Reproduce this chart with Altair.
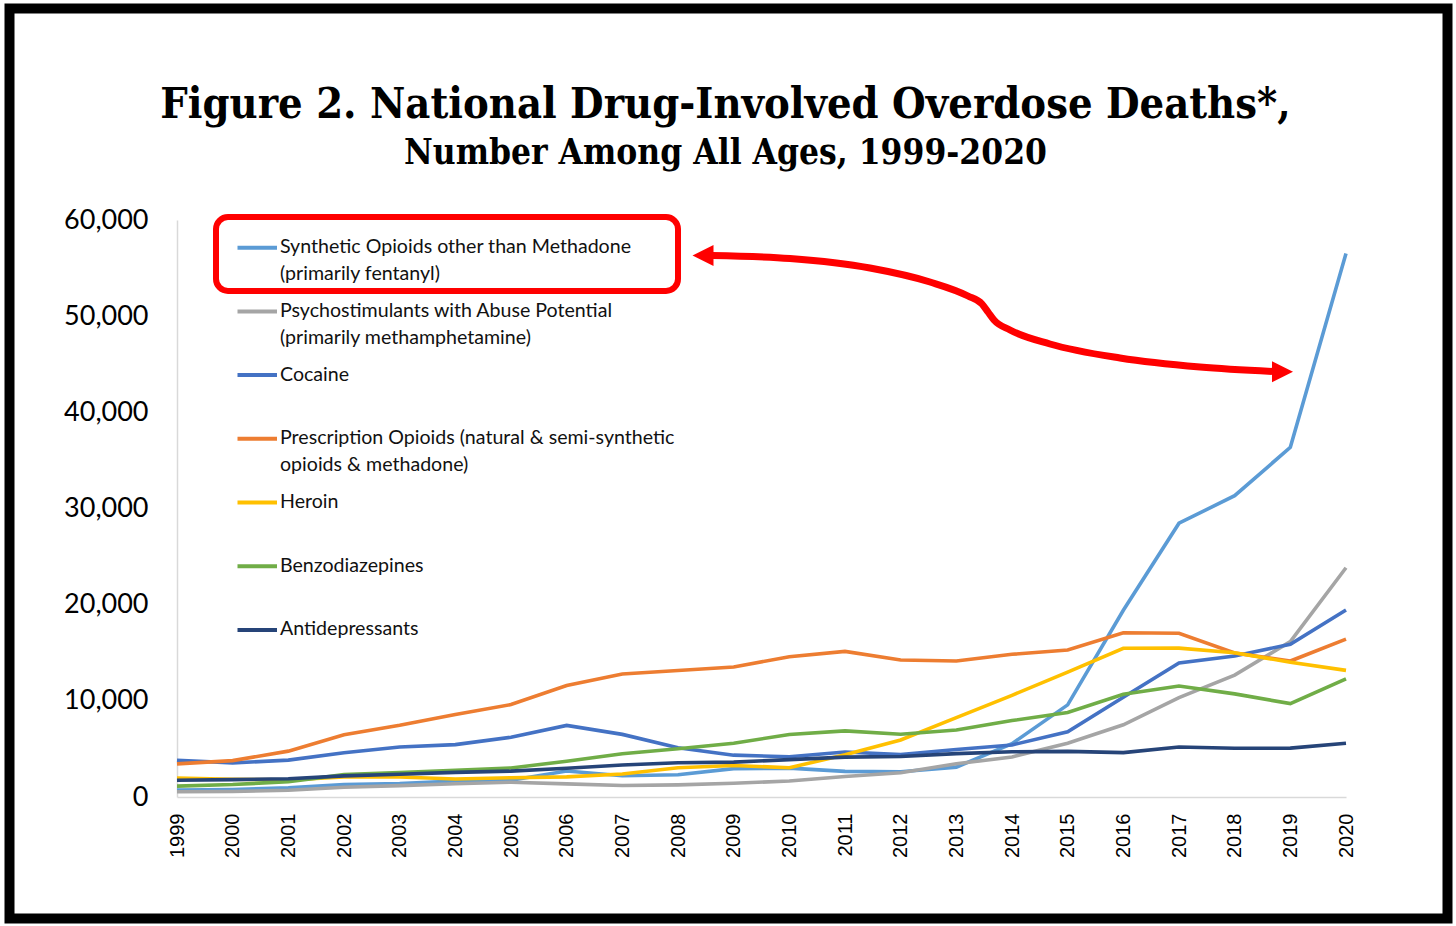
import altair as alt
import pandas as pd

# ---------------- data ----------------
YEARS = list(range(1999, 2021))

SERIES = [
    "Synthetic Opioids other than Methadone",
    "Psychostimulants with Abuse Potential",
    "Cocaine",
    "Prescription Opioids",
    "Heroin",
    "Benzodiazepines",
    "Antidepressants",
]
LEGEND_LABELS = [
    "Synthetic Opioids other than Methadone\n(primarily fentanyl)",
    "Psychostimulants with Abuse Potential\n(primarily methamphetamine)",
    "Cocaine",
    "Prescription Opioids (natural & semi-synthetic\nopioids & methadone)",
    "Heroin",
    "Benzodiazepines",
    "Antidepressants",
]
COLORS = ["#5B9BD5", "#A5A5A5", "#4472C4", "#ED7D31", "#FFC000", "#70AD47", "#264478"]

synthetic = [730, 782, 957, 1295, 1400, 1664, 1742, 2707, 2213, 2306, 2946,
             3007, 2666, 2628, 3105, 5544, 9580, 19413, 28466, 31335, 36359, 56516]
psychostim = [547, 578, 705, 1016, 1181, 1383, 1537, 1363, 1203, 1262, 1435,
              1657, 2127, 2527, 3449, 4168, 5592, 7505, 10333, 12676, 16167, 23837]
cocaine = [3822, 3544, 3833, 4599, 5199, 5443, 6208, 7448, 6512, 5129, 4350,
           4183, 4681, 4404, 4944, 5415, 6784, 10375, 13942, 14666, 15883, 19447]
prescription = [3442, 3785, 4770, 6483, 7456, 8577, 9612, 11589, 12796, 13149, 13523,
                14583, 15140, 14240, 14145, 14838, 15281, 17087, 17029, 14975, 14139, 16416]
heroin = [1960, 1842, 1779, 2089, 2080, 1878, 2009, 2088, 2399, 3041, 3278,
          3036, 4397, 5925, 8257, 10574, 12989, 15469, 15482, 14996, 14019, 13165]
benzo = [1135, 1298, 1594, 2330, 2545, 2773, 3018, 3711, 4503, 5011, 5596,
         6497, 6872, 6524, 6973, 7945, 8791, 10684, 11537, 10724, 9711, 12290]
antidep = [1749, 1803, 1899, 2197, 2372, 2563, 2692, 2994, 3333, 3565, 3630,
           3889, 4151, 4210, 4515, 4707, 4744, 4613, 5201, 5064, 5078, 5597]

VALUES = [synthetic, psychostim, cocaine, prescription, heroin, benzo, antidep]

TITLE = "Figure 2. National Drug-Involved Overdose Deaths*,"
SUBTITLE = "Number Among All Ages, 1999-2020"
Y_TICKS = [0, 10000, 20000, 30000, 40000, 50000, 60000]

# ---------------- tables built from the arrays ----------------
rows = []
for name, vals in zip(SERIES, VALUES):
    for yr, v in zip(YEARS, vals):
        rows.append({"series": name, "year": yr, "deaths": v})
df = pd.DataFrame(rows)

# ---------------- layout ----------------
W, H = 1456, 926
LEFT, TOP = 177, 220
PW, PH = 1169, 577
RIGHT, BOTTOM = W - LEFT - PW, H - TOP - PH

# page-pixel scales used for annotations
PX = alt.Scale(domain=[0, W], range=[-LEFT, W - LEFT], nice=False, zero=False)
PY = alt.Scale(domain=[0, H], range=[-TOP, H - TOP], nice=False, zero=False)

color = alt.Color("series:N", scale=alt.Scale(domain=SERIES, range=COLORS), legend=None)

lines = alt.Chart(df).mark_line(strokeWidth=3.6).encode(
    x=alt.X("year:Q",
            scale=alt.Scale(domain=[1999, 2020], nice=False, zero=False),
            axis=alt.Axis(values=YEARS, format="d", labelAngle=270, title=None,
                          ticks=False, grid=False, domainColor="#D9D9D9", domainWidth=1.5,
                          labelFont="Liberation Sans", labelFontSize=20, labelColor="black",
                          labelPadding=16, labelOverlap=False)),
    y=alt.Y("deaths:Q",
            scale=alt.Scale(domain=[0, 60000], nice=False),
            axis=alt.Axis(values=Y_TICKS, format=",d", title=None, ticks=False, grid=False,
                          domainColor="#D9D9D9", domainWidth=1.5,
                          labelFont="Lato", labelFontSize=27, labelColor="black",
                          labelPadding=29)),
    color=color,
)

# frame
frame = alt.Chart(pd.DataFrame({"x0": [9.5], "x1": [1447.5], "y0": [8.5], "y1": [918.5]})).mark_rect(
    fill="white", fillOpacity=0, stroke="black", strokeWidth=10
).encode(
    x=alt.X("x0:Q", scale=PX, axis=None), x2="x1:Q",
    y=alt.Y("y0:Q", scale=PY, axis=None), y2="y1:Q",
)

# titles
title_df = pd.DataFrame({"t": [TITLE, SUBTITLE], "x": [725.5, 725.5], "y": [118, 164]})
title = alt.Chart(title_df.iloc[[0]]).mark_text(
    font="DejaVu Serif Condensed, DejaVu Serif", fontWeight="bold", fontSize=43,
    align="center", baseline="alphabetic", color="black"
).encode(x=alt.X("x:Q", scale=PX, axis=None), y=alt.Y("y:Q", scale=PY, axis=None), text="t:N")
subtitle = alt.Chart(title_df.iloc[[1]]).mark_text(
    font="DejaVu Serif Condensed, DejaVu Serif", fontWeight="bold", fontSize=35,
    align="center", baseline="alphabetic", color="black"
).encode(x=alt.X("x:Q", scale=PX, axis=None), y=alt.Y("y:Q", scale=PY, axis=None), text="t:N")

# legend (built by hand, inside the plot)
leg_y = [247.7 + i * 63.7 for i in range(len(SERIES))]
leg_df = pd.DataFrame({
    "series": SERIES, "label": LEGEND_LABELS, "ly": leg_y,
    "lb": [v + 5.5 for v in leg_y],
    "x0": [237.5] * len(SERIES), "x1": [277] * len(SERIES), "tx": [280] * len(SERIES),
})
leg_rules = alt.Chart(leg_df).mark_rule(strokeWidth=4).encode(
    x=alt.X("x0:Q", scale=PX, axis=None), x2="x1:Q",
    y=alt.Y("ly:Q", scale=PY, axis=None), color=color,
)
leg_text = alt.Chart(leg_df).mark_text(
    font="Lato", fontSize=19.6, align="left", baseline="alphabetic",
    lineBreak="\n", lineHeight=27, color="#111111"
).encode(
    x=alt.X("tx:Q", scale=PX, axis=None), y=alt.Y("lb:Q", scale=PY, axis=None), text="label:N",
)

# red highlight box
box = alt.Chart(pd.DataFrame({"x0": [216], "x1": [678], "y0": [217], "y1": [291]})).mark_rect(
    fill="white", fillOpacity=0, stroke="#FF0000", strokeWidth=6, cornerRadius=12
).encode(
    x=alt.X("x0:Q", scale=PX, axis=None), x2="x1:Q",
    y=alt.Y("y0:Q", scale=PY, axis=None), y2="y1:Q",
)

# curved red arrow
arrow_df = pd.DataFrame({
    "ax": [712, 790, 870, 930, 968, 982, 988, 994, 1010, 1050, 1120, 1200, 1274],
    "ay": [255.5, 258.5, 268, 282, 296, 304, 312, 320, 330, 344, 358, 367, 371.5],
})
arrow = alt.Chart(arrow_df).mark_line(color="#FF0000", strokeWidth=7, interpolate="monotone").encode(
    x=alt.X("ax:Q", scale=PX, axis=None), y=alt.Y("ay:Q", scale=PY, axis=None),
)
heads_df = pd.DataFrame({"hx": [703, 1282.5], "hy": [255.5, 371.7], "dir": ["left", "right"]})
heads = alt.Chart(heads_df).mark_point(filled=True, size=441, opacity=1, color="#FF0000").encode(
    x=alt.X("hx:Q", scale=PX, axis=None), y=alt.Y("hy:Q", scale=PY, axis=None),
    shape=alt.Shape("dir:N", scale=alt.Scale(domain=["left", "right"],
                                             range=["M1,-1L-1,0L1,1Z", "M-1,-1L1,0L-1,1Z"]),
                    legend=None),
)

chart = alt.layer(
    frame, lines, leg_rules, leg_text, box, arrow, heads, title, subtitle
).resolve_scale(
    x="independent", y="independent"
).properties(
    width=PW, height=PH,
    padding={"left": LEFT, "top": TOP, "right": RIGHT, "bottom": BOTTOM},
    autosize=alt.AutoSizeParams(type="none"),
    background="white",
).configure_view(stroke=None)

chart.save("out.html", embed_options={"renderer": "svg", "actions": False})
